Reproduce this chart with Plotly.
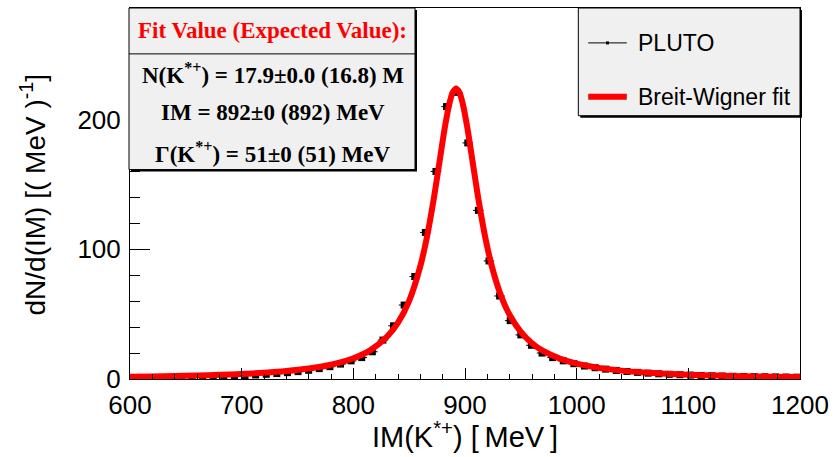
import plotly.graph_objects as go

# ---------------- data ----------------
pluto_im = [636.5, 646, 655.5, 665, 674.5, 684, 693.5, 703, 712.5, 722,
            731.5, 741, 750.5, 760, 769.5, 779, 788.5, 798, 807.5, 817,
            826.5, 836, 845.5, 855, 864.5, 874, 883.5, 893, 902.5, 912,
            921.5, 931, 940.5, 950, 959.5, 969, 978.5, 988, 997.5, 1007,
            1016.5, 1026, 1035.5, 1045, 1054.5, 1064, 1073.5, 1083, 1092.5, 1102,
            1111.5, 1121, 1130.5, 1140, 1149.5, 1159, 1168.5, 1178, 1187.5, 1197]
pluto_counts = [0.8, 1.0, 1.2, 1.4, 1.7, 2.0, 2.3, 2.7, 3.1, 3.6,
                4.2, 4.9, 5.7, 6.7, 8.0, 9.5, 11.5, 14.0, 16.5, 21.0,
                30, 41, 57, 79, 113, 160, 210, 221, 182, 130,
                91, 64, 45, 34, 26, 20, 16.5, 14, 11.8, 10,
                8.7, 7.6, 6.6, 5.8, 5.1, 4.5, 4.0, 3.6, 3.3, 3.0,
                2.7, 2.5, 2.3, 2.1, 1.95, 1.8, 1.7, 1.6, 1.5, 1.4]
pluto_half_bin = 4.75

fit_im = [600, 620, 640, 660, 680, 700, 720, 740, 760, 780, 800, 815, 830, 840,
          850, 860, 866, 872, 877, 882, 886, 889, 892, 895, 898, 902, 907, 912,
          918, 924, 932, 940, 950, 960, 970, 985, 1000, 1020, 1040, 1060, 1080,
          1100, 1125, 1150, 1175, 1200]
fit_counts = [1.7, 1.95, 2.27, 2.67, 3.19, 3.88, 4.82, 6.13, 8.06, 11.0, 16.0, 22.1,
              32.4, 43.4, 60.3, 87.0, 109.8, 138.7, 166.4, 194.2, 212.2, 220.9, 224.0,
              220.9, 212.2, 194.2, 166.4, 138.7, 109.8, 87.0, 64.7, 49.3, 36.3, 27.6,
              21.6, 15.7, 11.8, 8.55, 6.46, 5.04, 4.05, 3.32, 2.65, 2.17, 1.80, 1.53]

x_range = [600, 1200]
y_range = [0, 286]
x_ticks = [600, 700, 800, 900, 1000, 1100, 1200]
y_ticks = [0, 100, 200]

legend_labels = ["PLUTO", "Breit-Wigner fit"]
fit_header = "Fit Value (Expected Value):"
fit_lines = ["N(K<sup>*+</sup>) = 17.9\u00b10.0 (16.8) M",
             "IM = 892\u00b10 (892) MeV",
             "\u0393(K<sup>*+</sup>) = 51\u00b10 (51) MeV"]

# ---------------- layout geometry ----------------
W, H = 836, 457
ML, MR, MT, MB = 130, 29, 7, 78
PW, PH = W - ML - MR, H - MT - MB


def px(x):
    return (x - ML) / PW


def py(y):
    return (H - MB - y) / PH


fig = go.Figure()

fig.add_trace(go.Scatter(
    x=pluto_im, y=pluto_counts, mode="markers",
    marker=dict(symbol="square", size=7, color="black"),
    error_x=dict(type="constant", value=pluto_half_bin, thickness=1, width=0, color="black"),
    name=legend_labels[0], showlegend=False, cliponaxis=True))

fig.add_trace(go.Scatter(
    x=fit_im, y=fit_counts, mode="lines",
    line=dict(color="#ff0000", width=6, shape="spline", smoothing=0.8),
    name=legend_labels[1], showlegend=False))

shapes = []
annotations = []

BOX_FILL = "#f0f0f0"


def pave(x0, y0, x1, y1):
    # shadow
    shapes.append(dict(type="rect", xref="paper", yref="paper",
                       x0=px(x0 + 2), x1=px(x1 + 2), y0=py(y1 + 2), y1=py(y0 + 2),
                       fillcolor="black", line=dict(width=0), layer="above"))
    shapes.append(dict(type="rect", xref="paper", yref="paper",
                       x0=px(x0), x1=px(x1), y0=py(y1), y1=py(y0),
                       fillcolor=BOX_FILL, line=dict(color="black", width=1), layer="above"))


# Fit value box
pave(129, 7, 418, 169)
shapes.append(dict(type="line", xref="paper", yref="paper",
                   x0=px(129), x1=px(418), y0=py(53), y1=py(53),
                   line=dict(color="black", width=1), layer="above"))
serif = "Liberation Serif, Times New Roman, serif"
annotations.append(dict(xref="paper", yref="paper", x=px(274), y=py(30),
                        text=fit_header, showarrow=False, xanchor="center", yanchor="middle",
                        font=dict(family=serif, size=23, color="#ff0000", weight="bold")))
for txt, yc in zip(fit_lines, [73, 112, 152]):
    annotations.append(dict(xref="paper", yref="paper", x=px(274), y=py(yc),
                            text=txt, showarrow=False, xanchor="center", yanchor="middle",
                            font=dict(family=serif, size=23, color="black", weight="bold")))

# Legend box
pave(583, 7, 807, 115)
sans = "Liberation Sans, Arial, sans-serif"
shapes.append(dict(type="line", xref="paper", yref="paper",
                   x0=px(593), x1=px(632), y0=py(42), y1=py(42),
                   line=dict(color="black", width=1), layer="above"))
shapes.append(dict(type="rect", xref="paper", yref="paper",
                   x0=px(611), x1=px(614), y0=py(43.5), y1=py(40.5),
                   fillcolor="black", line=dict(width=0), layer="above"))
shapes.append(dict(type="line", xref="paper", yref="paper",
                   x0=px(593), x1=px(632), y0=py(96), y1=py(96),
                   line=dict(color="#ff0000", width=6), layer="above"))
for txt, yc in zip(legend_labels, [42, 96]):
    annotations.append(dict(xref="paper", yref="paper", x=px(641), y=py(yc),
                            text=txt, showarrow=False, xanchor="left", yanchor="middle",
                            font=dict(family=sans, size=23, color="black")))

# Axis titles
annotations.append(dict(xref="paper", yref="paper", x=px(468), y=py(455),
                        text="IM(K<sup>*+</sup>) [\u2009MeV\u2009]", showarrow=False,
                        xanchor="center", yanchor="bottom",
                        font=dict(family=sans, size=29, color="black")))
annotations.append(dict(xref="paper", yref="paper", x=px(33), y=py(195),
                        text="dN/d(IM) [( MeV )<sup>-1</sup>]", showarrow=False, textangle=-90,
                        xanchor="center", yanchor="middle",
                        font=dict(family=sans, size=28, color="black")))

fig.update_layout(
    width=W, height=H,
    margin=dict(l=ML, r=MR, t=MT, b=MB, pad=0),
    paper_bgcolor="white", plot_bgcolor="white",
    shapes=shapes, annotations=annotations,
    showlegend=False,
    xaxis=dict(range=x_range, tickvals=x_ticks, ticks="inside", ticklen=11, tickwidth=1,
               tickcolor="black", showline=True, linecolor="black", linewidth=1, mirror=True,
               showgrid=False, zeroline=False, ticklabelstandoff=3,
               tickfont=dict(family=sans, size=26, color="black"),
               minor=dict(dtick=20, ticks="inside", ticklen=5.5, tickcolor="black", showgrid=False)),
    yaxis=dict(range=y_range, tickvals=y_ticks, ticks="inside", ticklen=20, tickwidth=1,
               tickcolor="black", showline=True, linecolor="black", linewidth=1, mirror=True,
               showgrid=False, zeroline=False, ticklabelstandoff=3,
               tickfont=dict(family=sans, size=26, color="black"),
               minor=dict(dtick=20, ticks="inside", ticklen=10, tickcolor="black", showgrid=False)),
)

fig.write_html("out.html")
